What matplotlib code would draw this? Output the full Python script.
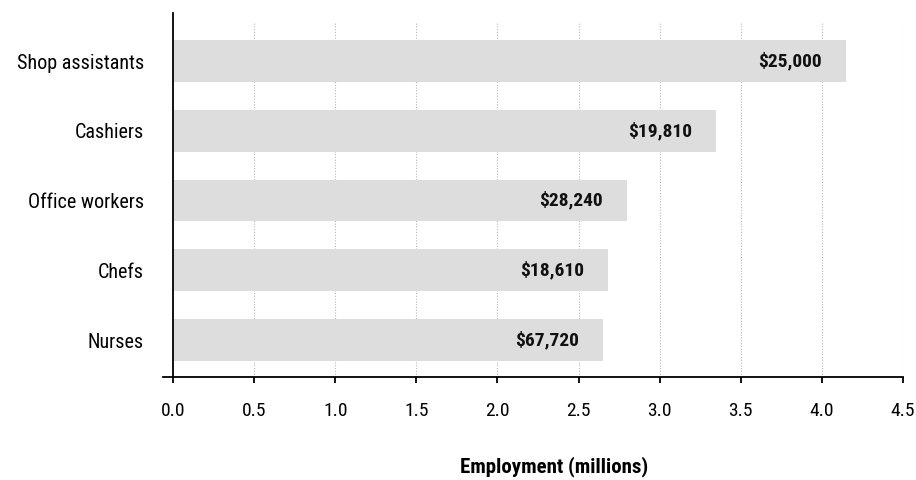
import matplotlib
matplotlib.use("Agg")
import matplotlib.pyplot as plt
from matplotlib import font_manager

# Employment by occupation, with the typical annual salary printed on each bar
occupations = ["Nurses", "Chefs", "Office workers", "Cashiers", "Shop assistants"]
employment_millions = [2.65, 2.68, 2.80, 3.35, 4.15]
salary_labels = ["$67,720", "$18,610", "$28,240", "$19,810", "$25,000"]
x_ticks = [0.0, 0.5, 1.0, 1.5, 2.0, 2.5, 3.0, 3.5, 4.0, 4.5]

available = {f.name for f in font_manager.fontManager.ttflist}
family = next((f for f in ["Roboto Condensed", "Archivo Narrow", "PT Sans Narrow",
                           "Barlow Semi Condensed", "Asap Condensed"] if f in available),
              "DejaVu Sans")
plt.rcParams["font.family"] = [family, "DejaVu Sans"]

fig = plt.figure(figsize=(9.16, 4.8), dpi=100)
ax = fig.add_axes([163 / 916, 1 - 377 / 480, (903 - 163) / 916, (377 - 13) / 480])

y = list(range(len(occupations)))
ax.set_xlim(-0.062, 4.5)
ax.set_ylim(-0.53, 4.69)

# dotted vertical guides
ax.vlines(x_ticks[1:], -0.53, 4.56, colors="#b8b8b8", linestyles=(0, (1, 1.5)),
          linewidth=0.8, zorder=0)

ax.barh(y, employment_millions, height=0.6, color="#dddddd", zorder=1)

for yi, v, lab in zip(y, employment_millions, salary_labels):
    ax.annotate(lab, xy=(v, yi), xytext=(-24, 0), textcoords="offset pixels",
                ha="right", va="center", fontsize=14, fontweight="bold",
                color="#111111", zorder=3)

for s in ["top", "right"]:
    ax.spines[s].set_visible(False)
ax.spines["left"].set_position(("data", 0))
ax.spines["left"].set_linewidth(1.3)
ax.spines["bottom"].set_linewidth(1.3)

ax.set_yticks(y)
ax.set_yticklabels(occupations, fontsize=14.5)
ax.tick_params(axis="y", length=0, pad=21)
ax.set_xticks(x_ticks)
ax.set_xticklabels([f"{t:.1f}" for t in x_ticks], fontsize=14)
ax.tick_params(axis="x", length=4, width=1.3, direction="out", pad=14)

fig.text(554 / 916, 1 - 467 / 480, "Employment (millions)", ha="center", va="center",
         fontsize=15, fontweight="bold")

fig.savefig("out.png", dpi=100, facecolor="white")
